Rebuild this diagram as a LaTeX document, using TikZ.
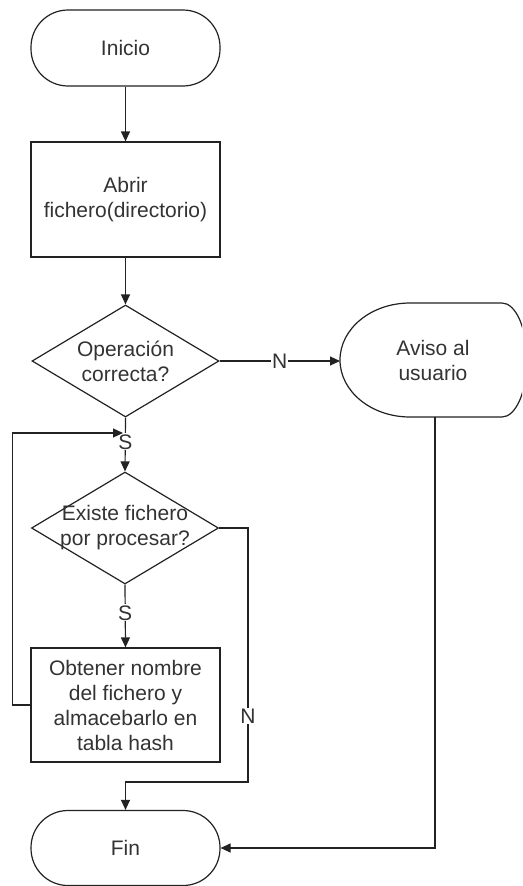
\documentclass[tikz,border=0pt]{standalone}
\usepackage{fontspec}
\setmainfont{Liberation Sans}
\usetikzlibrary{shapes.geometric,arrows.meta}
\definecolor{txt}{HTML}{333333}
\definecolor{ln}{HTML}{222222}
\begin{document}
\begin{tikzpicture}[x=1pt,y=-1pt,
  every node/.style={text=txt, font=\fontsize{21}{25}\selectfont},
  term/.style={draw=ln, line width=1.2pt, rounded corners=37pt, minimum width=189pt, minimum height=76pt, inner sep=0pt},
  proc/.style={draw=ln, line width=1.2pt, minimum width=189pt, minimum height=115pt, align=center, inner sep=0pt},
  dec/.style={draw=ln, line width=1.2pt, diamond, minimum width=187pt, minimum height=112pt, inner sep=0pt},
  conn/.style={draw=ln, line width=1.2pt, -{Triangle[length=10pt,width=9pt]}},
  lbl/.style={fill=white, inner sep=1pt}
]
\useasboundingbox (0,0) rectangle (522,886);
\fill[white] (0,0) rectangle (522,886);

\node[term] (inicio) at (125.5,48) {Inicio};
\node[proc] (abrir) at (125.5,199.5) {Abrir\\fichero(directorio)};
\node[dec, label={[align=center]center:Operación\\correcta?}] (op) at (125.5,361) {};
\node[dec, label={[align=center]center:Existe fichero\\por procesar?}] (ex) at (125,528) {};
\node[proc, minimum height=114pt] (obt) at (125.5,705) {Obtener nombre\\del fichero y\\almacebarlo en\\tabla hash};
\node[term, minimum height=75pt] (fin) at (125.5,848) {Fin};

% display shape
\begin{scope}
\clip (0,0) rectangle (522,886);
\draw[ln, line width=1.2pt] (410,303) -- (502,303)
  .. controls (515.8,303) and (527,328.5) .. (527,360)
  .. controls (527,391.5) and (515.8,417) .. (502,417)
  -- (410,417)
  .. controls (371.4,417) and (340,391.5) .. (340,360)
  .. controls (340,328.5) and (371.4,303) .. (410,303) -- cycle;
\end{scope}
\node[align=center] (aviso) at (433,360) {Aviso al\\usuario};
\coordinate (avisoW) at (340,361);
\coordinate (avisoS) at (435,417);

\coordinate (loopend) at (123,433);
\coordinate (nturn) at (248,528);
\coordinate (ncorner) at (248,782);
\coordinate (finjoin) at (125.5,782);

\draw[conn] (inicio) -- (abrir);
\draw[conn] (abrir) -- (op);
\draw[conn] (op.east) -- node[lbl]{N} (avisoW);
\draw[conn] (op.south) -- node[lbl,pos=0.45]{S} (ex.north);
\draw[conn] (obt.west) -- ++(-18,0) |- (loopend);
\draw[conn] (ex.south) -- node[lbl,pos=0.45]{S} (obt.north);
\draw[conn] (ex.east) -- (nturn) -- node[lbl,pos=0.74]{N} (ncorner) -- (finjoin) -- (fin.north);
\draw[conn] (avisoS) |- (fin.east);
\end{tikzpicture}
\end{document}
